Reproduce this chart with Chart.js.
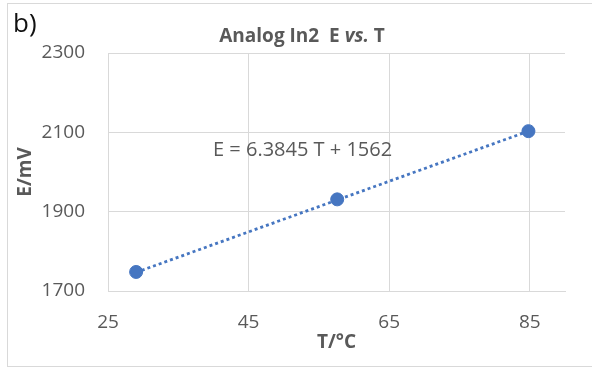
<!DOCTYPE html>
<html>
<head>
<meta charset="utf-8">
<script src="https://cdn.jsdelivr.net/npm/chart.js@4"></script>
<style>
  html, body { margin: 0; padding: 0; background: #fff; }
  #wrap { position: relative; width: 592px; height: 368px; overflow: hidden; }
  #frame { position: absolute; left: 7px; top: 3px; width: 620px; height: 362px; border: 1px solid #d9d9d9; }
  .lbl { position: absolute; font-family: "Open Sans", sans-serif; line-height: 1; white-space: pre; color: #595959; }
  #panel { left: 13px; top: 9px; font-size: 26px; color: #111; }
  #title { left: 302px; top: 26px; font-size: 19px; font-weight: bold; transform: translateX(-50%); }
  #eq { left: 213px; top: 139px; font-size: 20px; }
  canvas { position: absolute; left: 0; top: 0; }
</style>
</head>
<body>
<div id="wrap">
  <div id="frame"></div>
  <canvas id="chart" width="592" height="368"></canvas>
  <div class="lbl" id="panel">b)</div>
  <div class="lbl" id="title">Analog In2  E <i>vs.</i> T</div>
  <div class="lbl" id="eq">E = 6.3845 T + 1562</div>
</div>
<script>
// Measured points
const temps = [29, 57.6, 84.8]
const volts = [1748, 1931, 2103]

// Linear trendline ends
const trendT = [29, 84.8]
const trendE = [1747, 2103]

// Axes
const xTicks = [25, 45, 65, 85]
const yTicks = [1700, 1900, 2100, 2300]
const xMin = 25
const xMax = 90
const yMin = 1700
const yMax = 2300

const blue = "#4676c1"
const grey = "#595959"
const gridColor = "#d9d9d9"
const tickFont = { family: "Open Sans", size: 19 }
const titleFont = { family: "Open Sans", size: 19, weight: "bold" }

const ctx = document.getElementById("chart").getContext("2d")
new Chart(ctx, {
  type: "scatter",
  data: {
    datasets: [
      {
        label: "E",
        data: temps.map((t, i) => ({ x: t, y: volts[i] })),
        backgroundColor: blue,
        borderColor: blue,
        pointRadius: 6.5,
        order: 1,
      },
      {
        label: "Linear (E)",
        type: "line",
        data: trendT.map((t, i) => ({ x: t, y: trendE[i] })),
        borderColor: blue,
        borderWidth: 2.8,
        borderDash: [3, 3],
        pointRadius: 0,
        fill: false,
        order: 2,
      },
    ],
  },
  options: {
    responsive: false,
    animation: false,
    layout: { padding: { left: 0, top: 53, right: 27, bottom: 0 } },
    plugins: {
      legend: { display: false },
      tooltip: { enabled: false },
    },
    scales: {
      x: {
        type: "linear",
        min: xMin,
        max: xMax,
        afterBuildTicks: (scale) => {
          scale.ticks = xTicks.map((v) => ({ value: v }))
        },
        afterFit: (scale) => {
          scale.height = 77
        },
        grid: { color: gridColor, drawTicks: false },
        border: { color: gridColor },
        ticks: {
          color: grey,
          font: tickFont,
          padding: 20,
          maxRotation: 0,
          autoSkip: false,
          callback: (v) => String(v),
        },
        title: {
          display: true,
          text: "T/°C",
          color: grey,
          font: titleFont,
          padding: { top: 0, bottom: 14 },
        },
      },
      y: {
        min: yMin,
        max: yMax,
        afterBuildTicks: (scale) => {
          scale.ticks = yTicks.map((v) => ({ value: v }))
        },
        afterFit: (scale) => {
          scale.width = 108
        },
        grid: { color: gridColor, drawTicks: false },
        border: { color: gridColor },
        ticks: { color: grey, font: tickFont, padding: 23, callback: (v) => String(v) },
        title: {
          display: true,
          text: "E/mV",
          color: grey,
          font: titleFont,
          padding: { top: 14, bottom: 0 },
        },
      },
    },
  },
})
</script>
</body>
</html>
